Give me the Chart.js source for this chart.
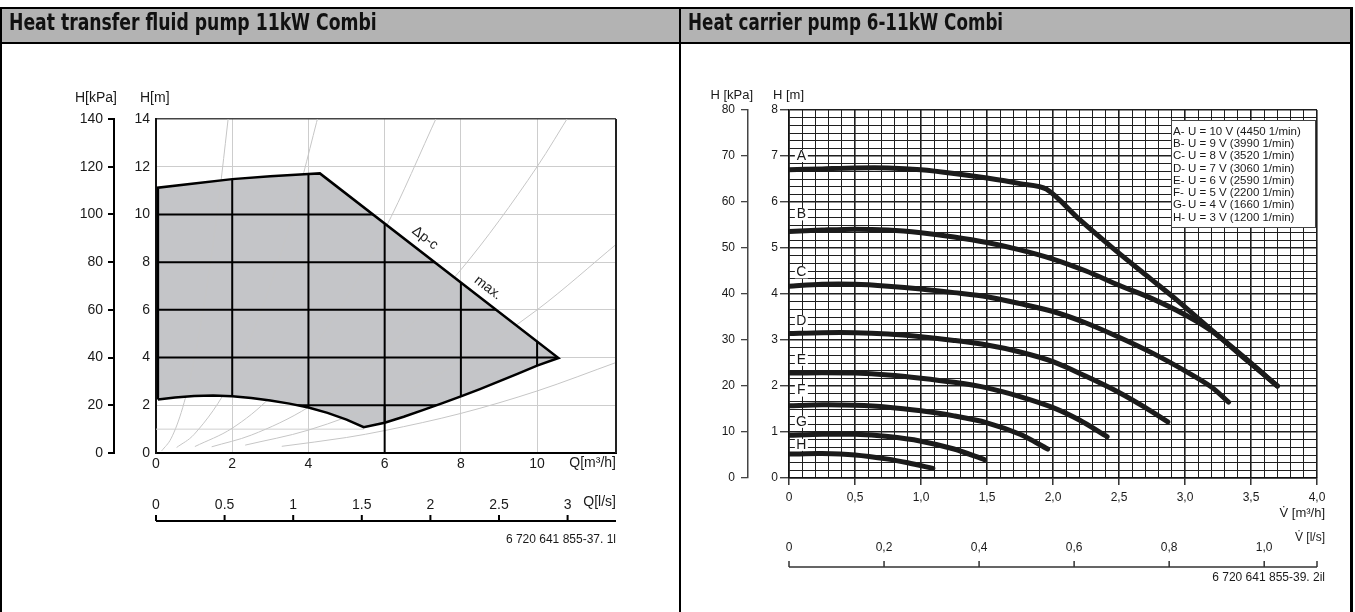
<!DOCTYPE html>
<html>
<head>
<meta charset="utf-8">
<script src="https://cdn.jsdelivr.net/npm/chart.js@4.4.1/dist/chart.umd.min.js"></script>
<style>
  html, body { margin: 0; padding: 0; background: #fff; }
  #page { position: relative; width: 1355px; height: 612px; overflow: hidden; }
  canvas { position: absolute; top: 0; }
  #cl { left: 0; }
  #cr { left: 680px; }
  .bar { position: absolute; background: #000; }
  .hdr { position: absolute; top: 9px; height: 33px; background: #b3b3b3; }
  .ttl { position: absolute; top: 9px; height: 33px; line-height: 34px; white-space: nowrap;
         font: bold 23px "Liberation Sans Narrow", "DejaVu Sans Condensed", "Liberation Sans", sans-serif;
         color: #111; transform-origin: 0 50%; }
</style>
</head>
<body>
<div id="page">
  <div class="hdr" style="left:2px;width:677px"></div>
  <div class="hdr" style="left:681px;width:669px"></div>
  <canvas id="cl" width="680" height="612"></canvas>
  <canvas id="cr" width="675" height="612"></canvas>
  <div class="bar" style="left:0;top:7px;width:1353px;height:2px"></div>
  <div class="bar" style="left:0;top:42px;width:1353px;height:2px"></div>
  <div class="bar" style="left:0;top:7px;width:2px;height:605px"></div>
  <div class="bar" style="left:679px;top:7px;width:2px;height:605px"></div>
  <div class="bar" style="left:1350px;top:7px;width:3px;height:605px"></div>
  <div class="ttl" id="t1" style="left:9px">Heat transfer fluid pump 11kW Combi</div>
  <div class="ttl" id="t2" style="left:688px">Heat carrier pump 6-11kW Combi</div>
</div>
<script>
// ---------- left chart: heat transfer fluid pump 11kW ----------
const qTicks = [0, 2, 4, 6, 8, 10];
const qMax = 12.07;
const hTicksL = [0, 2, 4, 6, 8, 10, 12, 14];
const kpaTicksL = [0, 20, 40, 60, 80, 100, 120, 140];
const lsTicksL = [0, 0.5, 1, 1.5, 2, 2.5, 3];
const lsLabelsL = ['0', '0.5', '1', '1.5', '2', '2.5', '3'];

// operating field outline (Q m³/h, H m), closed
const fieldQ = [0.05, 0.05, 1.0, 2.0, 3.0, 4.0, 4.3, 10.56, 10.0, 9.5, 9.0, 8.5, 8.0, 7.5, 7.0, 6.5, 6.0, 5.45,
                5.0, 4.5, 4.0, 3.5, 3.0, 2.5, 2.0, 1.5, 1.0, 0.5, 0.05];
const fieldH = [2.24, 11.12, 11.3, 11.48, 11.6, 11.69, 11.72, 3.98, 3.66, 3.33, 3.0, 2.68, 2.37, 2.08, 1.8, 1.52, 1.27, 1.08,
                1.4, 1.68, 1.91, 2.07, 2.2, 2.31, 2.38, 2.41, 2.39, 2.33, 2.24];

// system curves (light grey)
const sys1 = [[0.15, 0.09], [0.4, 0.62], [0.7, 1.9], [1.0, 3.9], [1.3, 6.6], [1.6, 10.0], [1.95, 14.8]];
const sys2 = [[0.54, 0.23], [1.0, 0.78], [2.0, 3.12], [3.0, 7.02], [3.6, 10.1], [4.3, 14.4]];
const sys3 = [[1.02, 0.27], [2.0, 1.04], [3.0, 2.34], [4.5, 5.27], [6.0, 9.36], [7.4, 14.2]];
const sys4 = [[1.46, 0.26], [2.5, 0.75], [4.0, 1.92], [6.0, 4.32], [8.0, 7.68], [10.0, 12.0], [10.9, 14.3]];
const sys5 = [[2.34, 0.33], [4.0, 0.96], [6.0, 2.16], [8.0, 3.84], [10.0, 6.0], [12.1, 8.78]];
const sys6 = [[3.3, 0.28], [5.0, 0.65], [6.0, 0.94], [8.0, 1.66], [10.0, 2.6], [12.1, 3.81]];
const sysCurves = [sys1, sys2, sys3, sys4, sys5, sys6];

const guideEndQ = 5.45;         // the faint 1 m line stops at the field minimum
const dpcAt = [7.06, 9.01];
const maxAt = [8.71, 6.92];

// ---------- right chart: heat carrier pump 6-11kW ----------
const vTicks = [0, 0.5, 1, 1.5, 2, 2.5, 3, 3.5, 4];
const vLabels = ['0', '0,5', '1,0', '1,5', '2,0', '2,5', '3,0', '3,5', '4,0'];
const hTicksR = [0, 1, 2, 3, 4, 5, 6, 7, 8];
const hLabelsR = ['0', '1', '2', '3', '4', '5', '6', '7', '8'];
const kpaTicksR = [0, 10, 20, 30, 40, 50, 60, 70, 80];
const lsTicksR = [0, 0.2, 0.4, 0.6, 0.8, 1.0];
const lsLabelsR = ['0', '0,2', '0,4', '0,6', '0,8', '1,0'];

const curveA = [[0, 6.7], [0.25, 6.72], [0.5, 6.74], [0.75, 6.74], [1.0, 6.7], [1.25, 6.62], [1.5, 6.52], [1.75, 6.4],
                [1.95, 6.28], [2.2, 5.62], [2.46, 4.98], [2.7, 4.42], [2.95, 3.84], [3.2, 3.22], [3.45, 2.62], [3.7, 2.0]];
const curveB = [[0, 5.36], [0.25, 5.39], [0.5, 5.41], [0.75, 5.39], [1.0, 5.33], [1.25, 5.24], [1.5, 5.12], [1.75, 4.96],
                [2.0, 4.76], [2.25, 4.5], [2.5, 4.19], [2.75, 3.9], [3.0, 3.55], [3.21, 3.18], [3.45, 2.6], [3.7, 2.0]];
const curveC = [[0, 4.17], [0.25, 4.21], [0.5, 4.21], [0.75, 4.17], [1.0, 4.11], [1.25, 4.03], [1.5, 3.94], [1.75, 3.79],
                [2.0, 3.62], [2.25, 3.37], [2.5, 3.06], [2.75, 2.72], [3.0, 2.33], [3.2, 1.98], [3.33, 1.65]];
const curveD = [[0, 3.14], [0.25, 3.16], [0.5, 3.16], [0.75, 3.13], [1.0, 3.07], [1.25, 2.99], [1.5, 2.89], [1.75, 2.74],
                [2.0, 2.53], [2.25, 2.21], [2.5, 1.86], [2.7, 1.53], [2.87, 1.22]];
const curveE = [[0, 2.28], [0.25, 2.29], [0.5, 2.28], [0.75, 2.24], [1.0, 2.17], [1.25, 2.08], [1.5, 1.96], [1.75, 1.77],
                [2.0, 1.53], [2.2, 1.26], [2.41, 0.9]];
const curveF = [[0, 1.57], [0.25, 1.59], [0.5, 1.58], [0.75, 1.54], [1.0, 1.46], [1.25, 1.35], [1.5, 1.2], [1.75, 0.95], [1.96, 0.63]];
const curveG = [[0, 0.93], [0.25, 0.95], [0.5, 0.95], [0.75, 0.9], [1.0, 0.8], [1.25, 0.63], [1.48, 0.4]];
const curveH = [[0, 0.52], [0.25, 0.53], [0.5, 0.5], [0.75, 0.41], [0.9, 0.33], [1.09, 0.21]];
const pumpCurves = [curveA, curveB, curveC, curveD, curveE, curveF, curveG, curveH];
const curveNames = ['A', 'B', 'C', 'D', 'E', 'F', 'G', 'H'];
const letterH = [7.0, 5.73, 4.47, 3.41, 2.57, 1.9, 1.22, 0.72];
const legendRows = ['U = 10 V (4450 1/min)', 'U = 9 V (3990 1/min)', 'U = 8 V (3520 1/min)', 'U = 7 V (3060 1/min)',
                    'U = 6 V (2590 1/min)', 'U = 5 V (2200 1/min)', 'U = 4 V (1660 1/min)', 'U = 3 V (1200 1/min)'];
const vMax = 4;

Chart.defaults.font.family = '"Liberation Sans", Arial, sans-serif';
Chart.defaults.color = '#1a1a1a';

const ink = '#1a1a1a';
function near(a, b) { return Math.abs(a - b) < 1e-6; }
function labelFor(v, vals, labels) {
  const i = vals.findIndex(t => near(t, v));
  return i >= 0 ? labels[i] : '';
}
function txt(ctx, s, x, y, align, size) {
  ctx.save();
  ctx.font = size + 'px "Liberation Sans", Arial, sans-serif';
  ctx.fillStyle = ink;
  ctx.textAlign = align;
  ctx.textBaseline = 'middle';
  ctx.fillText(s, x, y);
  ctx.restore();
}

const fieldPts = fieldQ.map((q, i) => ({x: q, y: fieldH[i]}));

const leftDecor = {
  id: 'leftDecor',
  beforeDatasetsDraw(chart) {
    const {ctx, scales: {x, y}} = chart;
    ctx.save();
    ctx.strokeStyle = '#cfcfcf';
    ctx.lineWidth = 1;
    ctx.beginPath();
    ctx.moveTo(x.getPixelForValue(0), y.getPixelForValue(1));
    ctx.lineTo(x.getPixelForValue(guideEndQ), y.getPixelForValue(1));
    ctx.stroke();
    ctx.restore();
  },
  beforeDatasetDraw(chart, args) {
    if (args.index !== 1) return;
    const {ctx, scales: {x, y}, chartArea: a} = chart;
    ctx.save();
    ctx.beginPath();
    fieldPts.forEach((p, i) => {
      const px = x.getPixelForValue(p.x), py = y.getPixelForValue(p.y);
      if (i) ctx.lineTo(px, py); else ctx.moveTo(px, py);
    });
    ctx.closePath();
    ctx.clip();
    ctx.strokeStyle = '#000';
    ctx.lineWidth = 2;
    ctx.beginPath();
    qTicks.slice(1).forEach(q => {
      const px = x.getPixelForValue(q);
      ctx.moveTo(px, a.top); ctx.lineTo(px, a.bottom);
    });
    hTicksL.slice(1).forEach(h => {
      const py = y.getPixelForValue(h);
      ctx.moveTo(a.left, py); ctx.lineTo(a.right, py);
    });
    ctx.stroke();
    ctx.restore();
    // 6 m³/h line runs black down to the axis
    ctx.save();
    ctx.strokeStyle = '#000';
    ctx.lineWidth = 2;
    ctx.beginPath();
    ctx.moveTo(x.getPixelForValue(6), y.getPixelForValue(0));
    ctx.lineTo(x.getPixelForValue(6), y.getPixelForValue(2));
    ctx.stroke();
    ctx.restore();
  },
  afterDraw(chart) {
    const {ctx, scales: {x, x2, y}, chartArea: a} = chart;
    // right border of the plot
    ctx.save();
    ctx.strokeStyle = '#222';
    ctx.lineWidth = 2;
    ctx.beginPath();
    ctx.moveTo(a.right, a.top); ctx.lineTo(a.right, a.bottom);
    ctx.stroke();
    ctx.restore();

    txt(ctx, 'H[kPa]', 117, 98, 'right', 14);
    txt(ctx, 'H[m]', 140, 98, 'left', 14);
    txt(ctx, 'Q[m³/h]', a.right, 463, 'right', 14);

    // l/s scale
    lsTicksL.forEach((v, i) => txt(ctx, lsLabelsL[i], x2.getPixelForValue(v), 505, 'center', 14));
    txt(ctx, 'Q[l/s]', a.right, 502, 'right', 14);
    ctx.save();
    ctx.strokeStyle = '#000';
    ctx.lineWidth = 2;
    ctx.beginPath();
    ctx.moveTo(x2.getPixelForValue(0), 521);
    ctx.lineTo(x2.getPixelForValue(x2.max), 521);
    lsTicksL.forEach(v => {
      const px = x2.getPixelForValue(v);
      ctx.moveTo(px, 521); ctx.lineTo(px, 515);
    });
    ctx.stroke();
    ctx.restore();
    txt(ctx, '6 720 641 855-37. 1l', a.right, 540, 'right', 12);

    // labels along the max. line
    const p0 = {x: x.getPixelForValue(fieldQ[6]), y: y.getPixelForValue(fieldH[6])};
    const p1 = {x: x.getPixelForValue(fieldQ[7]), y: y.getPixelForValue(fieldH[7])};
    const ang = Math.atan2(p1.y - p0.y, p1.x - p0.x);
    [[dpcAt, 'Δp-c'], [maxAt, 'max.']].forEach(([pos, s]) => {
      ctx.save();
      ctx.translate(x.getPixelForValue(pos[0]), y.getPixelForValue(pos[1]));
      ctx.rotate(ang);
      ctx.font = '14px "Liberation Sans", Arial, sans-serif';
      ctx.fillStyle = ink;
      ctx.textAlign = 'center';
      ctx.textBaseline = 'middle';
      ctx.fillText(s, 0, 0);
      ctx.restore();
    });
  }
};

new Chart(document.getElementById('cl'), {
  type: 'scatter',
  data: {
    datasets: [
      {data: fieldPts, showLine: true, fill: 'shape', backgroundColor: '#c4c5c8', borderWidth: 0,
       pointRadius: 0, order: 2, xAxisID: 'x', yAxisID: 'y'},
      {data: fieldPts, showLine: true, fill: false, borderColor: '#000', borderWidth: 2.5,
       pointRadius: 0, order: 0, xAxisID: 'x', yAxisID: 'y'},
      ...sysCurves.map(c => ({
        data: c.map(p => ({x: p[0], y: p[1]})), showLine: true, fill: false, borderColor: '#c6c6c6',
        borderWidth: 1, pointRadius: 0, cubicInterpolationMode: 'monotone', order: 1, xAxisID: 'x', yAxisID: 'y'
      }))
    ]
  },
  options: {
    responsive: false,
    animation: false,
    devicePixelRatio: 1,
    layout: {padding: {top: 119, left: 0, right: 64, bottom: 129}},
    plugins: {legend: {display: false}, tooltip: {enabled: false}},
    scales: {
      x: {
        type: 'linear', position: 'bottom', min: 0, max: qMax,
        afterBuildTicks: s => { s.ticks = qTicks.map(v => ({value: v})); },
        afterFit: s => { s.height = 30; },
        grid: {color: '#cdcdcd', lineWidth: 1, drawTicks: false},
        border: {color: '#000', width: 2},
        ticks: {font: {size: 14}, padding: 3, maxRotation: 0, autoSkip: false, color: ink}
      },
      y: {
        type: 'linear', position: 'left', min: 0, max: 14, weight: 0,
        afterBuildTicks: s => { s.ticks = hTicksL.map(v => ({value: v})); },
        afterFit: s => { s.width = 42; },
        grid: {
          color: c => (c.tick && c.tick.value === 14) ? '#444' : '#cdcdcd',
          lineWidth: c => (c.tick && c.tick.value === 14) ? 1.5 : 1,
          drawTicks: false
        },
        border: {color: '#111', width: 2},
        ticks: {font: {size: 14}, padding: 6, color: ink}
      },
      yk: {
        type: 'linear', position: 'left', min: 0, max: 140, weight: 1,
        afterBuildTicks: s => { s.ticks = kpaTicksL.map(v => ({value: v})); },
        afterFit: s => { s.width = 114; },
        grid: {drawOnChartArea: false, tickLength: 6, color: '#000', lineWidth: 2},
        border: {color: '#000', width: 2},
        ticks: {font: {size: 14}, padding: 5, color: ink}
      },
      x2: {type: 'linear', display: false, min: 0, max: qMax / 3.6}
    }
  },
  plugins: [leftDecor]
});

// ---------- right chart ----------
const vGrid = Array.from({length: 41}, (_, i) => i / 10);
const hGridR = Array.from({length: 49}, (_, i) => i / 6);
const isHalf = c => c.tick && near(c.tick.value * 2, Math.round(c.tick.value * 2));
const isInt = c => c.tick && near(c.tick.value, Math.round(c.tick.value));

const rightDecor = {
  id: 'rightDecor',
  afterDraw(chart) {
    const {ctx, scales: {x, x2, y}, chartArea: a} = chart;
    txt(ctx, 'H [kPa]', 73, 95, 'right', 13);
    txt(ctx, 'H [m]', 93, 95, 'left', 13);

    // curve letters with white patches
    curveNames.forEach((n, i) => {
      const px = x.getPixelForValue(0.09), py = y.getPixelForValue(letterH[i]);
      ctx.save();
      ctx.fillStyle = '#fff';
      ctx.fillRect(px - 6, py - 6, 13, 12);
      ctx.restore();
      txt(ctx, n, px + 0.5, py, 'center', 14);
    });

    // legend box
    const lx = a.right - 146, ly = a.top + 10, lw = 145, lh = 108;
    ctx.save();
    ctx.fillStyle = '#fff';
    ctx.fillRect(lx, ly, lw, lh);
    ctx.strokeStyle = '#444';
    ctx.lineWidth = 1;
    ctx.strokeRect(lx + 0.5, ly + 0.5, lw - 1, lh - 1);
    ctx.restore();
    legendRows.forEach((r, i) => {
      const ry = ly + 11.5 + i * 12.3;
      txt(ctx, curveNames[i] + '-', lx + 2, ry, 'left', 11.5);
      txt(ctx, r, lx + 17, ry, 'left', 11.5);
    });

    txt(ctx, 'V\u0307 [m³/h]', 645, 513, 'right', 13);

    // l/s scale
    lsTicksR.forEach((v, i) => txt(ctx, lsLabelsR[i], x2.getPixelForValue(v), 548, 'center', 12));
    txt(ctx, 'V\u0307 [l/s]', 645, 538, 'right', 12);
    ctx.save();
    ctx.strokeStyle = '#333';
    ctx.lineWidth = 1.5;
    ctx.beginPath();
    ctx.moveTo(x2.getPixelForValue(0), 567);
    ctx.lineTo(x2.getPixelForValue(x2.max), 567);
    lsTicksR.concat([x2.max]).forEach(v => {
      const px = x2.getPixelForValue(v);
      ctx.moveTo(px, 567); ctx.lineTo(px, 561);
    });
    ctx.stroke();
    ctx.restore();
    txt(ctx, '6 720 641 855-39. 2il', 645, 578, 'right', 12);
  }
};

new Chart(document.getElementById('cr'), {
  type: 'scatter',
  data: {
    datasets: pumpCurves.map(c => ({
      data: c.map(p => ({x: p[0], y: p[1]})), showLine: true, fill: false, borderColor: '#1b1b1b',
      borderWidth: 5, borderCapStyle: 'round', borderJoinStyle: 'round', pointRadius: 0, tension: 0.3,
      xAxisID: 'x', yAxisID: 'y'
    }))
  },
  options: {
    responsive: false,
    animation: false,
    devicePixelRatio: 1,
    layout: {padding: {top: 110, left: 0, right: 38, bottom: 104}},
    plugins: {legend: {display: false}, tooltip: {enabled: false}},
    scales: {
      x: {
        type: 'linear', position: 'bottom', min: 0, max: vMax,
        afterBuildTicks: s => { s.ticks = vGrid.map(v => ({value: v})); },
        afterFit: s => { s.height = 30; },
        grid: {
          color: '#1e1e1e',
          lineWidth: c => isHalf(c) ? 1.6 : 1,
          tickLength: 7,
          tickColor: c => isHalf(c) ? '#222' : 'rgba(0,0,0,0)',
          tickWidth: 1.4
        },
        border: {color: '#111', width: 1.6},
        ticks: {autoSkip: false, maxRotation: 0, padding: 5, font: {size: 12}, color: ink,
                callback: v => labelFor(v, vTicks, vLabels)}
      },
      y: {
        type: 'linear', position: 'left', min: 0, max: 8, weight: 0,
        afterBuildTicks: s => { s.ticks = hGridR.map(v => ({value: v})); },
        afterFit: s => { s.width = 41; },
        grid: {
          color: '#1e1e1e',
          lineWidth: c => isInt(c) ? 1.5 : 1,
          tickLength: 9,
          tickColor: c => isInt(c) ? '#222' : 'rgba(0,0,0,0)',
          tickWidth: 1.2
        },
        border: {color: '#111', width: 1.6},
        ticks: {autoSkip: false, padding: 2, font: {size: 12}, color: ink,
                callback: v => labelFor(v, hTicksR, hLabelsR)}
      },
      yk: {
        type: 'linear', position: 'left', min: 0, max: 80, weight: 1,
        afterBuildTicks: s => { s.ticks = kpaTicksR.map(v => ({value: v})); },
        afterFit: s => { s.width = 68; },
        grid: {drawOnChartArea: false, tickLength: 7, color: '#444', lineWidth: 1.3},
        border: {color: '#444', width: 1.5},
        ticks: {font: {size: 12}, padding: 6, color: ink}
      },
      x2: {type: 'linear', display: false, min: 0, max: vMax / 3.6}
    }
  },
  plugins: [rightDecor]
});

function fitTitle(id, width) {
  const el = document.getElementById(id);
  el.style.transform = 'scaleX(' + (width / el.offsetWidth) + ')';
}
fitTitle('t1', 368);
fitTitle('t2', 315);
</script>
</body>
</html>
